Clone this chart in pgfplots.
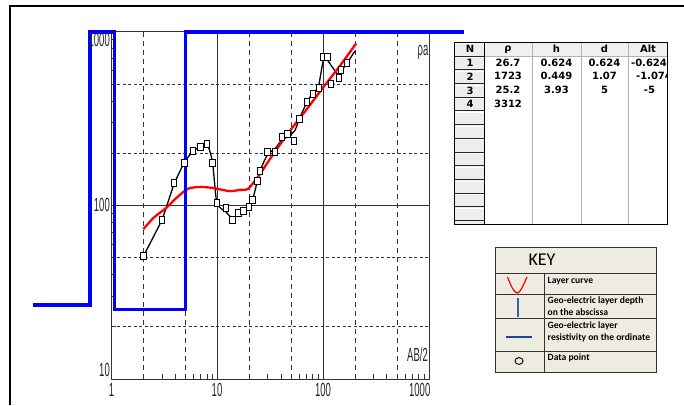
\documentclass[border=0pt]{standalone}
\usepackage{pgfplots}
\pgfplotsset{compat=1.18}
\usepackage{fontspec}
\setmainfont{Liberation Sans}
\newfontfamily\narrowfont[FakeStretch=0.5]{Liberation Sans}
\newfontfamily\tabfont{DejaVu Sans}
\newfontfamily\keyfont{Carlito}
\definecolor{keybg}{HTML}{EEECE1}
\definecolor{gridc}{HTML}{333333}
\pgfdeclareplotmark{rrect}{%
  \pgfsetcornersarced{\pgfpoint{1.6pt}{1.6pt}}%
  \pgfpathrectangle{\pgfpoint{-2.7pt}{-3.5pt}}{\pgfpoint{5.4pt}{7pt}}%
  \pgfusepathqfillstroke}
\begin{document}
\begin{tikzpicture}[x=1pt,y=1pt]
\path[use as bounding box] (0,0) rectangle (684,405);
% outer frame
\draw[line width=2pt] (10,0) -- (10,399) -- (684,399);

\begin{axis}[
  at={(111.5pt,26pt)}, anchor=south west, scale only axis,
  width=317.5pt, height=347pt,
  xmode=log, ymode=log, xmin=1, xmax=1000, ymin=10, ymax=1000,
  clip=false,
  axis line style={line width=1pt, gridc},
  xtick={1,10,100,1000}, ytick={10,100,1000},
  xticklabels={}, yticklabels={},
  minor xtick={2,3,4,5,6,7,8,9,20,30,40,50,60,70,80,90,200,300,400,500,600,700,800,900},
  minor ytick={20,30,40,50,60,70,80,90,200,300,400,500,600,700,800,900},
  xtick pos=bottom, ytick pos=left, tick align=inside,
  major tick length=0pt, minor tick length=5pt,
  every tick/.style={gridc, line width=0.9pt},
]
% grid
\foreach \xv in {2,5,20,50,200,500}{
  \edef\tmp{\noexpand\draw[gridc, line width=1pt, dash pattern=on 5pt off 4pt] (axis cs:\xv,10) -- (axis cs:\xv,1000);}\tmp
}
\foreach \yv in {20,50,200,500}{
  \edef\tmp{\noexpand\draw[gridc, line width=1pt, dash pattern=on 3pt off 2.5pt] (axis cs:1,\yv) -- (axis cs:1000,\yv);}\tmp
}
\draw[gridc, line width=1pt] (axis cs:10,10) -- (axis cs:10,1000);
\draw[gridc, line width=1pt] (axis cs:100,10) -- (axis cs:100,1000);
\draw[gridc, line width=1pt] (axis cs:1,100) -- (axis cs:1000,100);

% field curve (line)
\addplot[black, line width=1.3pt, smooth, tension=0.3] coordinates {
(2,51) (3,83) (3.9,133) (4.9,178) (5.9,206) (6.9,218) (8,228) (9,178) (9.9,103)
(12,92) (14,84) (16,90) (18,93) (20,98) (21.6,108) (24,140) (26,165) (30,198)
(35,212) (41,240) (47,250) (54,270) (60,320) (70,392) (80,447) (90,479) (102,715)
(120,637) (139,570) (166,655) (200,778)};
% data points
\addplot[only marks, mark=rrect,
  mark options={fill=white, draw=black, line width=0.8pt}]
coordinates {
(2.0,51) (3.0,83) (3.9,135) (4.9,177) (5.9,207) (6.9,219) (8.0,226) (9.0,177)
(9.9,103) (12.0,97) (13.9,83) (15.8,91) (17.7,93) (19.8,98) (21.5,108) (24,138)
(25.3,159) (29.7,204) (35,204) (40.6,247) (45.9,258) (53,236) (59.6,315) (70,398)
(79.8,442) (90.8,474) (100,718) (110,718) (118,505) (140,546) (147,602) (167,661)};
% model curve
\addplot[red, line width=2.3pt, smooth, tension=0.4] coordinates {
(2,73) (2.5,85) (3.3,97) (4.2,112) (5.3,125) (6.9,128) (9.2,126) (13,121)
(16.4,123) (19.6,125) (25.3,152) (33.8,198) (48.7,270) (70,359) (100,479)
(144,638) (205,860)};
% layer model
\addplot[blue, line width=3.5pt] coordinates {
(0.18,26.7) (0.624,26.7) (0.624,1000) (1.07,1000) (1.07,25.2) (5,25.2) (5,1000) (2140,1000)};
\end{axis}

% tick labels
\begin{scope}[every node/.style={inner sep=0pt, text=black!85, font=\narrowfont\fontsize{19}{19}\selectfont}]
\node at (111.5,15) {1};
\node at (217,15) {10};
\node at (323,15) {100};
\node[anchor=east] at (430.5,15) {1000};
\node[anchor=south east] at (110,28) {10};
\node[anchor=east] at (110,200) {100};
\node[anchor=north east] at (110,372) {1000};
\node[anchor=south east] at (428,43) {AB/2};
\node[anchor=east] at (428.5,353) {ρa};
\end{scope}

% table
\begin{scope}
\fill[white] (454,181) rectangle (667,362);
\foreach \i in {0,...,12}{
  \pgfmathsetmacro{\yt}{362-13.7*\i}
  \pgfmathsetmacro{\yb}{362-13.7*\i-13.0}
  \fill[gray!14] (454.5,\yb) rectangle (484,\yt);
  \draw[gray!30!black, line width=0.8pt] (454.5,\yb) -- (484,\yb);
  \draw[white, line width=0.6pt] (455,\yt-0.8) -- (483.5,\yt-0.8);
}
\fill[gray!14] (454.5,181) rectangle (484,184);
\fill[gray!12] (484,349) rectangle (667,362);
\draw[gray!60, line width=0.6pt] (484,349) -- (667,349);
\foreach \xv in {532,581,628}{ \draw[gray!60, line width=0.7pt] (\xv,181) -- (\xv,362); }
\draw[black, line width=0.9pt] (484,181) -- (484,362);
\draw[black, line width=1pt] (454,181) rectangle (667,362);
\begin{scope}[every node/.style={inner sep=0pt, font=\tabfont\bfseries\fontsize{10}{10}\selectfont}]
\node at (470,356) {N};
\node at (508,355) {ρ};
\node at (556.5,356) {h};
\node at (604.5,356) {d};
\node at (648,356) {Alt};
\foreach \r/\n in {1/1,2/2,3/3,4/4}{ \node at (470,362-6.5-13.7*\r) {\n}; }
\node at (508,342.5) {26.7};
\node at (508,328.8) {1723};
\node at (508,315.1) {25.2};
\node at (508,301.4) {3312};
\node at (556.5,342.5) {0.624};
\node at (556.5,328.8) {0.449};
\node at (556.5,315.1) {3.93};
\node at (604.5,342.5) {0.624};
\node at (604.5,328.8) {1.07};
\node at (604.5,315.1) {5};
\begin{scope}
\clip (628.5,181) rectangle (666.5,349);
\node at (649,342.5) {-0.624};
\node at (654,328.8) {-1.074};
\node at (649.5,315.1) {-5};
\end{scope}
\end{scope}
\end{scope}

% key box
\fill[keybg] (495,33) rectangle (656,158);
\draw[gray!40!black, line width=0.9pt] (495,33) rectangle (656,158);
\foreach \yv in {132,111,87,54}{ \draw[gray!40!black, line width=0.8pt] (495,\yv) -- (656,\yv); }
\draw[gray!40!black, line width=0.8pt] (544,33) -- (544,132);
\node[inner sep=0pt, font=\keyfont\fontsize{18}{18}\selectfont] at (542,145) {KEY};
\begin{scope}[every node/.style={inner sep=0pt, anchor=north west, align=left, font=\keyfont\bfseries\fontsize{9.6}{12}\selectfont}]
\node at (547.5,128) {Layer curve};
\node at (547.5,108.5) {Geo-electric layer depth\\on the abscissa};
\node at (547.5,83.5) {Geo-electric layer\\resistivity on the ordinate};
\node at (547.5,51) {Data point};
\end{scope}
\draw[red, line width=1.2pt] (507.5,128) .. controls (511,119) and (514,112) .. (517.5,112) .. controls (520,112) and (523,119) .. (527,128);
\draw[color={rgb,255:red,60;green,95;blue,160}, line width=1.6pt] (518,107) -- (518,88);
\draw[color={rgb,255:red,30;green,70;blue,140}, line width=1.2pt] (506,68) -- (532,68);
\draw[black, line width=0.9pt] (519,44) ellipse [x radius=4, y radius=3.4];
\end{tikzpicture}
\end{document}
